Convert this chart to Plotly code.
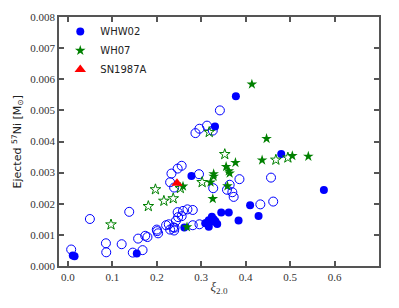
import plotly.graph_objects as go

# WHW02 filled
whw02_fill_x = [0.011, 0.015, 0.155, 0.262, 0.278, 0.331, 0.378, 0.480, 0.576, 0.410, 0.429, 0.384,
                0.345, 0.362, 0.309, 0.313, 0.317, 0.317, 0.320, 0.324, 0.328, 0.330, 0.332, 0.336]
whw02_fill_y = [0.00034, 0.00031, 0.00040, 0.00124, 0.00289, 0.00448, 0.00545, 0.00360, 0.00244, 0.00195,
                0.00161, 0.00146, 0.00172, 0.00172, 0.00137, 0.00139, 0.00126, 0.00147, 0.00142, 0.00158,
                0.00150, 0.00142, 0.00144, 0.00135]

# WHW02 open
whw02_open_x = [0.0074, 0.0495, 0.0856, 0.0863, 0.121, 0.138, 0.146, 0.158, 0.168, 0.174, 0.179,
                0.200, 0.201, 0.203, 0.221, 0.227, 0.230, 0.237, 0.239, 0.240, 0.243, 0.248, 0.256,
                0.247, 0.259, 0.269, 0.281, 0.281, 0.296, 0.230, 0.233, 0.247, 0.256, 0.239, 0.295,
                0.287, 0.296, 0.313, 0.326, 0.342, 0.327, 0.358, 0.364, 0.370, 0.373, 0.386, 0.433,
                0.462, 0.457]
whw02_open_y = [0.00053, 0.00151, 0.00073, 0.00044, 0.00070, 0.00174, 0.00043, 0.00088, 0.00051, 0.00097,
                0.00093, 0.00117, 0.00112, 0.00105, 0.00131, 0.00134, 0.00117, 0.00124, 0.00114, 0.00123,
                0.00145, 0.00157, 0.00160, 0.00173, 0.00177, 0.00182, 0.00180, 0.00131, 0.00134, 0.00269,
                0.00297, 0.00313, 0.00322, 0.00252, 0.00295, 0.00427, 0.00441, 0.00451, 0.00435, 0.00500,
                0.00250, 0.00245, 0.00261, 0.00237, 0.00222, 0.00279, 0.00198, 0.00207, 0.00284]

# WH07 filled
wh07_fill_x = [0.268, 0.259, 0.321, 0.326, 0.328, 0.328, 0.356, 0.362, 0.364, 0.377, 0.359, 0.437,
               0.447, 0.414, 0.505, 0.541]
wh07_fill_y = [0.00125, 0.00256, 0.00269, 0.00216, 0.00296, 0.00288, 0.00319, 0.00305, 0.00298, 0.00332,
               0.00257, 0.00340, 0.00409, 0.00584, 0.00354, 0.00352]

# WH07 open
wh07_open_x = [0.097, 0.181, 0.197, 0.216, 0.237, 0.253, 0.302, 0.318, 0.353, 0.468, 0.495]
wh07_open_y = [0.00133, 0.00192, 0.00246, 0.00209, 0.00217, 0.00250, 0.00269, 0.00430, 0.00359, 0.00341,
               0.00348]

sn_x = [0.2455]
sn_y = [0.00266]

x_ticks = [0.0, 0.1, 0.2, 0.3, 0.4, 0.5, 0.6]
x_ticklabels = ["0.0", "0.1", "0.2", "0.3", "0.4", "0.5", "0.6"]
y_ticks = [0.000, 0.001, 0.002, 0.003, 0.004, 0.005, 0.006, 0.007, 0.008]

BLUE = "#0000ff"
GREEN = "#008000"
RED = "#ff0000"

fig = go.Figure()
fig.add_trace(go.Scatter(x=whw02_open_x, y=whw02_open_y, mode="markers", showlegend=False,
                         marker=dict(symbol="circle-open", size=9, color=BLUE, line=dict(width=1, color=BLUE))))
fig.add_trace(go.Scatter(x=whw02_fill_x, y=whw02_fill_y, mode="markers", name="WHW02",
                         marker=dict(symbol="circle", size=8, color=BLUE, line=dict(width=0))))
fig.add_trace(go.Scatter(x=wh07_open_x, y=wh07_open_y, mode="markers", showlegend=False,
                         marker=dict(symbol="star-open", size=8, color=GREEN, line=dict(width=1, color=GREEN))))
fig.add_trace(go.Scatter(x=wh07_fill_x, y=wh07_fill_y, mode="markers", name="WH07",
                         marker=dict(symbol="star", size=8, color=GREEN, line=dict(width=0))))
fig.add_trace(go.Scatter(x=sn_x, y=sn_y, mode="markers", name="SN1987A",
                         marker=dict(symbol="triangle-up", size=10, color=RED, line=dict(width=0))))

axis_common = dict(showgrid=False, zeroline=False, showline=True, linecolor="#555555", linewidth=1.5,
                   ticks="inside", ticklen=5, tickwidth=1.5, tickcolor="#555555", mirror="allticks",
                   automargin=False,
                   tickfont=dict(family="Liberation Serif", size=11, color="#333333"))

fig.update_xaxes(range=[-0.02, 0.7], tickvals=x_ticks, ticktext=x_ticklabels,
                 title=dict(text="<i>ξ</i><sub>2.0</sub>", font=dict(family="Liberation Serif", size=13, color="#333333"),
                            standoff=0),
                 **axis_common)
fig.update_yaxes(range=[0, 0.008], tickvals=y_ticks, tickformat=".3f", **axis_common)

fig.add_annotation(text="Ejected <sup>57</sup>Ni [M<sub>⊙</sub>]", textangle=-90,
                   xref="paper", yref="paper", x=0, y=0.5, xanchor="center", yanchor="middle",
                   xshift=-42, showarrow=False,
                   font=dict(family="DejaVu Sans", size=11, color="#222222"))

# page body has an 8px default margin, so the figure is sized to end at the window edge
fig.update_layout(
    width=391, height=300,
    margin=dict(l=51, r=20, t=9, b=42, autoexpand=False),
    paper_bgcolor="white", plot_bgcolor="white",
    showlegend=True,
    legend=dict(x=0.004, y=1.0, xanchor="left", yanchor="top", bgcolor="rgba(0,0,0,0)",
                font=dict(family="DejaVu Sans", size=10, color="#222222"), itemwidth=30),
)

fig.write_html("out.html")
